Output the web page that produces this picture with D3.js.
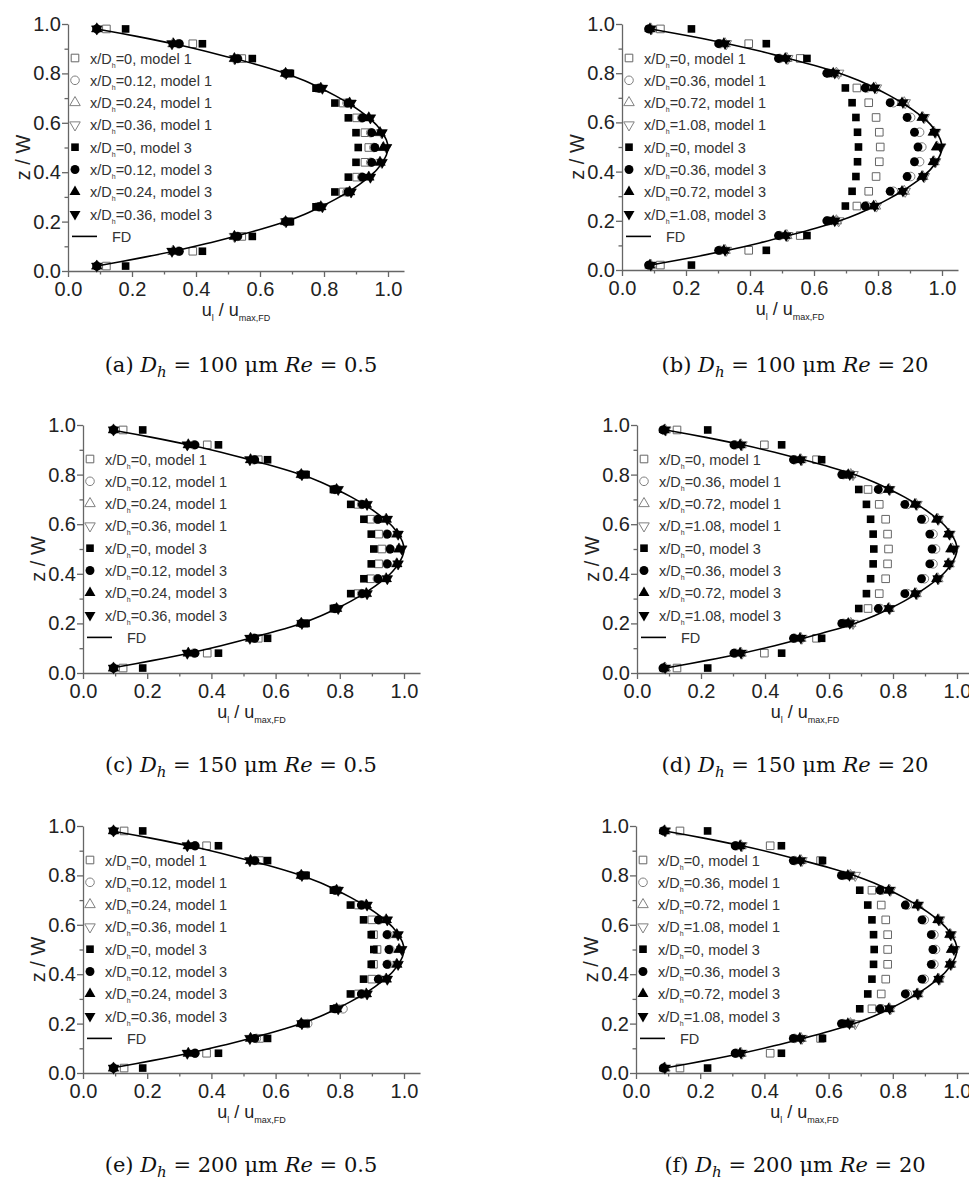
<!DOCTYPE html>
<html>
<head>
<meta charset="utf-8">
<script src="https://cdn.jsdelivr.net/npm/d3@7"></script>
<style>
  body { margin: 0; background: #fff; }
  svg { display: block; }
</style>
</head>
<body>
<script>
/* ------------------------------- Data ------------------------------- */
// z/W levels of the sampled points (bottom wall -> top wall)
const zLevels = [0.02, 0.08, 0.14, 0.20, 0.26, 0.32, 0.38, 0.44, 0.50, 0.56, 0.62, 0.68, 0.74, 0.80, 0.86, 0.92, 0.98];

// fully developed profile (FD)
const fdZ = [0.98, 0.95, 0.92, 0.89, 0.86, 0.83, 0.80, 0.77, 0.74, 0.71, 0.68, 0.65, 0.62, 0.59, 0.56, 0.53, 0.50,
             0.47, 0.44, 0.41, 0.38, 0.35, 0.32, 0.29, 0.26, 0.23, 0.20, 0.17, 0.14, 0.11, 0.08, 0.05, 0.02];
const fdU = [0.09, 0.215, 0.33, 0.43, 0.52, 0.605, 0.68, 0.74, 0.79, 0.835, 0.875, 0.91, 0.94, 0.965, 0.982, 0.995, 1.0,
             0.995, 0.982, 0.965, 0.94, 0.91, 0.875, 0.835, 0.79, 0.74, 0.68, 0.605, 0.52, 0.43, 0.33, 0.215, 0.09];

// legend x/Dh values
const xdLeft = ["0", "0.12", "0.24", "0.36"];
const xdRight = ["0", "0.36", "0.72", "1.08"];

// captions
const capTags = ["(a)", "(b)", "(c)", "(d)", "(e)", "(f)"];
const capDh = ["100", "100", "150", "150", "200", "200"];
const capRe = ["0.5", "20", "0.5", "20", "0.5", "20"];

// (a) Dh = 100 um, Re = 0.5  -- u_l / u_max,FD per z level
const aSq1 = [0.12, 0.39, 0.543, 0.69, 0.785, 0.86, 0.902, 0.928, 0.94, 0.928, 0.902, 0.86, 0.785, 0.69, 0.543, 0.39, 0.12];
const aCi1 = [0.09, 0.345, 0.53, 0.68, 0.785, 0.872, 0.918, 0.946, 0.956, 0.946, 0.918, 0.872, 0.785, 0.68, 0.53, 0.345, 0.09];
const aTu1 = [0.09, 0.328, 0.52, 0.68, 0.79, 0.88, 0.94, 0.975, 0.986, 0.975, 0.94, 0.88, 0.79, 0.68, 0.52, 0.328, 0.09];
const aTd1 = [0.09, 0.325, 0.52, 0.68, 0.795, 0.884, 0.945, 0.98, 0.995, 0.98, 0.945, 0.884, 0.795, 0.68, 0.52, 0.325, 0.09];
const aSq3 = [0.18, 0.42, 0.576, 0.695, 0.775, 0.834, 0.876, 0.9, 0.907, 0.9, 0.876, 0.834, 0.775, 0.695, 0.576, 0.42, 0.18];
const aCi3 = [0.09, 0.348, 0.53, 0.68, 0.785, 0.875, 0.92, 0.949, 0.959, 0.949, 0.92, 0.875, 0.785, 0.68, 0.53, 0.348, 0.09];
const aTu3 = [0.09, 0.33, 0.52, 0.68, 0.79, 0.88, 0.94, 0.975, 0.985, 0.975, 0.94, 0.88, 0.79, 0.68, 0.52, 0.33, 0.09];
const aTd3 = [0.09, 0.325, 0.522, 0.682, 0.795, 0.885, 0.945, 0.982, 0.996, 0.982, 0.945, 0.885, 0.795, 0.682, 0.522, 0.325, 0.09];

// (b) Dh = 100 um, Re = 20
const bSq1 = [0.12, 0.396, 0.557, 0.665, 0.734, 0.771, 0.794, 0.804, 0.807, 0.804, 0.794, 0.771, 0.734, 0.665, 0.557, 0.396, 0.12];
const bCi1 = [0.086, 0.306, 0.493, 0.645, 0.765, 0.848, 0.902, 0.93, 0.937, 0.93, 0.902, 0.848, 0.765, 0.645, 0.493, 0.306, 0.086];
const bTu1 = [0.09, 0.322, 0.515, 0.67, 0.792, 0.882, 0.94, 0.975, 0.985, 0.975, 0.94, 0.882, 0.792, 0.67, 0.515, 0.322, 0.09];
const bTd1 = [0.092, 0.326, 0.518, 0.677, 0.795, 0.885, 0.945, 0.98, 0.996, 0.98, 0.945, 0.885, 0.795, 0.677, 0.518, 0.326, 0.092];
const bSq3 = [0.217, 0.451, 0.578, 0.645, 0.698, 0.719, 0.731, 0.736, 0.739, 0.736, 0.731, 0.719, 0.698, 0.645, 0.578, 0.451, 0.217];
const bCi3 = [0.083, 0.302, 0.489, 0.64, 0.76, 0.838, 0.891, 0.914, 0.925, 0.914, 0.891, 0.838, 0.76, 0.64, 0.489, 0.302, 0.083];
const bTu3 = [0.087, 0.318, 0.51, 0.66, 0.786, 0.875, 0.937, 0.972, 0.982, 0.972, 0.937, 0.875, 0.786, 0.66, 0.51, 0.318, 0.087];
const bTd3 = [0.09, 0.322, 0.513, 0.665, 0.79, 0.878, 0.942, 0.978, 0.995, 0.978, 0.942, 0.878, 0.79, 0.665, 0.513, 0.322, 0.09];

// (c) Dh = 150 um, Re = 0.5
const cSq1 = [0.125, 0.387, 0.546, 0.69, 0.785, 0.857, 0.896, 0.921, 0.931, 0.921, 0.896, 0.857, 0.785, 0.69, 0.546, 0.387, 0.125];
const cCi1 = [0.095, 0.346, 0.532, 0.68, 0.785, 0.868, 0.917, 0.946, 0.955, 0.946, 0.917, 0.868, 0.785, 0.68, 0.532, 0.346, 0.095];
const cTu1 = [0.095, 0.328, 0.522, 0.68, 0.79, 0.882, 0.944, 0.977, 0.985, 0.977, 0.944, 0.882, 0.79, 0.68, 0.522, 0.328, 0.095];
const cTd1 = [0.095, 0.325, 0.52, 0.682, 0.795, 0.885, 0.948, 0.981, 0.993, 0.981, 0.948, 0.885, 0.795, 0.682, 0.52, 0.325, 0.095];
const cSq3 = [0.186, 0.422, 0.575, 0.695, 0.78, 0.834, 0.875, 0.898, 0.906, 0.898, 0.875, 0.834, 0.78, 0.695, 0.575, 0.422, 0.186];
const cCi3 = [0.095, 0.349, 0.535, 0.68, 0.785, 0.87, 0.919, 0.948, 0.957, 0.948, 0.919, 0.87, 0.785, 0.68, 0.535, 0.349, 0.095];
const cTu3 = [0.095, 0.328, 0.522, 0.68, 0.79, 0.883, 0.945, 0.978, 0.984, 0.978, 0.945, 0.883, 0.79, 0.68, 0.522, 0.328, 0.095];
const cTd3 = [0.095, 0.325, 0.52, 0.682, 0.795, 0.885, 0.948, 0.982, 0.993, 0.982, 0.948, 0.885, 0.795, 0.682, 0.52, 0.325, 0.095];

// (d) Dh = 150 um, Re = 20
const dSq1 = [0.125, 0.398, 0.561, 0.665, 0.722, 0.757, 0.777, 0.783, 0.786, 0.783, 0.777, 0.757, 0.722, 0.665, 0.561, 0.398, 0.125];
const dCi1 = [0.084, 0.306, 0.492, 0.645, 0.76, 0.845, 0.898, 0.925, 0.933, 0.925, 0.898, 0.845, 0.76, 0.645, 0.492, 0.306, 0.084];
const dTu1 = [0.088, 0.325, 0.512, 0.668, 0.788, 0.872, 0.94, 0.975, 0.985, 0.975, 0.94, 0.872, 0.788, 0.668, 0.512, 0.325, 0.088];
const dTd1 = [0.09, 0.328, 0.515, 0.675, 0.79, 0.875, 0.942, 0.978, 0.992, 0.978, 0.942, 0.875, 0.79, 0.675, 0.515, 0.328, 0.09];
const dSq3 = [0.221, 0.452, 0.577, 0.645, 0.693, 0.717, 0.73, 0.738, 0.74, 0.738, 0.73, 0.717, 0.693, 0.645, 0.577, 0.452, 0.221];
const dCi3 = [0.081, 0.303, 0.489, 0.64, 0.754, 0.837, 0.889, 0.915, 0.922, 0.915, 0.889, 0.837, 0.754, 0.64, 0.489, 0.303, 0.081];
const dTu3 = [0.085, 0.322, 0.509, 0.66, 0.785, 0.868, 0.936, 0.972, 0.98, 0.972, 0.936, 0.868, 0.785, 0.66, 0.509, 0.322, 0.085];
const dTd3 = [0.088, 0.325, 0.512, 0.665, 0.788, 0.872, 0.94, 0.976, 0.99, 0.976, 0.94, 0.872, 0.788, 0.665, 0.512, 0.325, 0.088];

// (e) Dh = 200 um, Re = 0.5
const eSq1 = [0.128, 0.385, 0.55, 0.69, 0.79, 0.858, 0.9, 0.905, 0.916, 0.905, 0.9, 0.858, 0.79, 0.69, 0.55, 0.385, 0.128];
const eCi1 = [0.095, 0.349, 0.54, 0.70, 0.81, 0.87, 0.922, 0.95, 0.956, 0.95, 0.922, 0.87, 0.79, 0.68, 0.535, 0.349, 0.095];
const eTu1 = [0.095, 0.328, 0.522, 0.68, 0.79, 0.882, 0.944, 0.977, 0.985, 0.977, 0.944, 0.882, 0.79, 0.68, 0.522, 0.328, 0.095];
const eTd1 = [0.095, 0.325, 0.52, 0.682, 0.795, 0.885, 0.948, 0.981, 0.993, 0.981, 0.948, 0.885, 0.795, 0.682, 0.52, 0.325, 0.095];
const eSq3 = [0.186, 0.422, 0.575, 0.695, 0.78, 0.833, 0.874, 0.898, 0.906, 0.898, 0.874, 0.833, 0.78, 0.695, 0.575, 0.422, 0.186];
const eCi3 = [0.095, 0.349, 0.535, 0.68, 0.785, 0.867, 0.92, 0.947, 0.953, 0.947, 0.92, 0.867, 0.785, 0.68, 0.535, 0.349, 0.095];
const eTu3 = [0.095, 0.328, 0.522, 0.68, 0.79, 0.883, 0.945, 0.978, 0.984, 0.978, 0.945, 0.883, 0.79, 0.68, 0.522, 0.328, 0.095];
const eTd3 = [0.095, 0.325, 0.52, 0.682, 0.795, 0.885, 0.948, 0.982, 0.993, 0.982, 0.948, 0.885, 0.795, 0.682, 0.52, 0.325, 0.095];

// (f) Dh = 200 um, Re = 20
const fSq1 = [0.137, 0.418, 0.575, 0.67, 0.735, 0.764, 0.778, 0.784, 0.784, 0.784, 0.778, 0.764, 0.735, 0.67, 0.575, 0.418, 0.137];
const fCi1 = [0.088, 0.312, 0.494, 0.645, 0.765, 0.845, 0.898, 0.928, 0.933, 0.928, 0.898, 0.845, 0.765, 0.645, 0.494, 0.312, 0.088];
const fTu1 = [0.09, 0.327, 0.514, 0.668, 0.79, 0.878, 0.943, 0.98, 0.985, 0.98, 0.943, 0.878, 0.79, 0.668, 0.514, 0.327, 0.09];
const fTd1 = [0.092, 0.33, 0.517, 0.683, 0.793, 0.88, 0.946, 0.982, 0.993, 0.982, 0.946, 0.88, 0.793, 0.683, 0.517, 0.33, 0.092];
const fSq3 = [0.223, 0.453, 0.581, 0.65, 0.697, 0.722, 0.735, 0.74, 0.742, 0.74, 0.735, 0.722, 0.697, 0.65, 0.581, 0.453, 0.223];
const fCi3 = [0.085, 0.309, 0.49, 0.64, 0.76, 0.839, 0.891, 0.92, 0.925, 0.92, 0.891, 0.839, 0.76, 0.64, 0.49, 0.309, 0.085];
const fTu3 = [0.088, 0.324, 0.51, 0.66, 0.787, 0.875, 0.94, 0.977, 0.982, 0.977, 0.94, 0.875, 0.787, 0.66, 0.51, 0.324, 0.088];
const fTd3 = [0.09, 0.327, 0.513, 0.665, 0.79, 0.878, 0.943, 0.98, 0.99, 0.98, 0.943, 0.878, 0.79, 0.665, 0.513, 0.327, 0.09];

/* ----------------------------- Layout ----------------------------- */
const vWidth = 969;
const vHeight = 1183;
const sansFont = "'Liberation Sans', Arial, sans-serif";
const serifFont = "'DejaVu Serif', 'Liberation Serif', serif";
const axisColor = "#666";
const openColor = "#808080";

// series styles, same order as the legend
const seriesStyle = [
    { type: d3.symbolSquare, size: 58, fill: "none", stroke: "#666", rot: 0 },
    { type: d3.symbolCircle, size: 58, fill: "none", stroke: openColor, rot: 0 },
    { type: d3.symbolTriangle, size: 48, fill: "none", stroke: openColor, rot: 0 },
    { type: d3.symbolTriangle, size: 48, fill: "none", stroke: openColor, rot: 180 },
    { type: d3.symbolSquare, size: 58, fill: "#000", stroke: "none", rot: 0 },
    { type: d3.symbolCircle, size: 62, fill: "#000", stroke: "none", rot: 0 },
    { type: d3.symbolTriangle, size: 52, fill: "#000", stroke: "none", rot: 0 },
    { type: d3.symbolTriangle, size: 52, fill: "#000", stroke: "none", rot: 180 }
];

const panels = [
    { left: 68, top: 24, bottom: 271, width: 320, capX: 241, capY: 372, series: [aSq1, aCi1, aTu1, aTd1, aSq3, aCi3, aTu3, aTd3], xd: xdLeft },
    { left: 622, top: 24, bottom: 270, width: 320, capX: 795, capY: 372, series: [bSq1, bCi1, bTu1, bTd1, bSq3, bCi3, bTu3, bTd3], xd: xdRight },
    { left: 83, top: 425, bottom: 673, width: 321, capX: 241, capY: 772, series: [cSq1, cCi1, cTu1, cTd1, cSq3, cCi3, cTu3, cTd3], xd: xdLeft },
    { left: 637, top: 425, bottom: 673, width: 320, capX: 795, capY: 772, series: [dSq1, dCi1, dTu1, dTd1, dSq3, dCi3, dTu3, dTd3], xd: xdRight },
    { left: 83, top: 826, bottom: 1073, width: 321, capX: 241, capY: 1172, series: [eSq1, eCi1, eTu1, eTd1, eSq3, eCi3, eTu3, eTd3], xd: xdLeft },
    { left: 636, top: 826, bottom: 1073, width: 321, capX: 795, capY: 1172, series: [fSq1, fCi1, fTu1, fTd1, fSq3, fCi3, fTu3, fTd3], xd: xdRight }
];

/* ----------------------------- Main SVG ---------------------------- */
const svg = d3.select("body").append("svg").attr("width", vWidth).attr("height", vHeight);

const symbolPath = (s) => d3.symbol().type(s.type).size(s.size)();

const drawPanel = (p, idx) => {
    const x = d3.scaleLinear().domain([0, 1.05]).range([p.left, p.left + p.width * 1.05]);
    const y = d3.scaleLinear().domain([0, 1]).range([p.bottom, p.top]);
    const g = svg.append("g");

    // x axis, major + minor ticks
    const xAxis = g.append("g").attr("transform", `translate(0,${p.bottom})`)
        .call(d3.axisBottom(x).tickValues([0, 0.2, 0.4, 0.6, 0.8, 1.0]).tickFormat(d3.format(".1f"))
            .tickSize(6).tickSizeOuter(0).tickPadding(5));
    const xMinor = g.append("g").attr("transform", `translate(0,${p.bottom})`)
        .call(d3.axisBottom(x).tickValues([0.1, 0.3, 0.5, 0.7, 0.9]).tickFormat("").tickSize(3.5));
    xMinor.select(".domain").remove();

    // y axis
    const yAxis = g.append("g").attr("transform", `translate(${p.left},0)`)
        .call(d3.axisLeft(y).tickValues([0, 0.2, 0.4, 0.6, 0.8, 1.0]).tickFormat(d3.format(".1f"))
            .tickSize(6).tickSizeOuter(0).tickPadding(1));
    const yMinor = g.append("g").attr("transform", `translate(${p.left},0)`)
        .call(d3.axisLeft(y).tickValues([0.1, 0.3, 0.5, 0.7, 0.9]).tickFormat("").tickSize(3.5));
    yMinor.select(".domain").remove();

    [xAxis, xMinor, yAxis, yMinor].forEach(a => {
        a.selectAll(".domain, line").attr("stroke", axisColor).attr("stroke-width", 1.3);
        a.selectAll("text").attr("font-family", sansFont).attr("font-size", "20px").attr("fill", "#222");
    });

    // axis titles
    const xt = g.append("text")
        .attr("x", (x(0) + x(1.05)) / 2).attr("y", p.bottom + 45)
        .attr("text-anchor", "middle").attr("font-family", sansFont).attr("font-size", "18px").attr("fill", "#222");
    xt.append("tspan").text("u");
    xt.append("tspan").attr("font-size", "9px").attr("dy", 5).text("l");
    xt.append("tspan").attr("dy", -5).text(" / u");
    xt.append("tspan").attr("font-size", "9px").attr("dy", 5).text("max,FD");

    g.append("text")
        .attr("transform", `translate(${p.left - 38},${(p.top + p.bottom) / 2 + 10}) rotate(-90)`)
        .attr("text-anchor", "middle").attr("font-family", sansFont).attr("font-size", "20px").attr("fill", "#222")
        .text("z / W");

    // data markers
    p.series.forEach((vals, i) => {
        const s = seriesStyle[i];
        g.append("g").selectAll("path").data(vals).enter().append("path")
            .attr("d", symbolPath(s))
            .attr("transform", (d, j) => `translate(${x(d)},${y(zLevels[j])}) rotate(${s.rot})`)
            .attr("fill", s.fill).attr("stroke", s.stroke).attr("stroke-width", 1);
    });

    // FD curve
    const line = d3.line().x(d => x(d[0])).y(d => y(d[1])).curve(d3.curveCatmullRom);
    g.append("path").datum(fdU.map((u, i) => [u, fdZ[i]]))
        .attr("d", line).attr("fill", "none").attr("stroke", "#000").attr("stroke-width", 1.6);

    // legend
    const lg = g.append("g").attr("transform", `translate(${p.left},${p.top + 34})`);
    const rowH = 22.3;
    seriesStyle.forEach((s, i) => {
        lg.append("path").attr("d", symbolPath(s))
            .attr("transform", `translate(7,${i * rowH}) rotate(${s.rot})`)
            .attr("fill", s.fill).attr("stroke", s.stroke).attr("stroke-width", 1);
        const t = lg.append("text").attr("x", 22).attr("y", i * rowH + 5.5)
            .attr("font-family", sansFont).attr("font-size", "14.5px").attr("fill", "#333");
        t.append("tspan").text("x/D");
        t.append("tspan").attr("font-size", "7px").attr("dy", 4).text("h");
        t.append("tspan").attr("dy", -4).text(`=${p.xd[i % 4]}, model ${i < 4 ? 1 : 3}`);
    });
    lg.append("line").attr("x1", 4).attr("x2", 29).attr("y1", 8 * rowH).attr("y2", 8 * rowH)
        .attr("stroke", "#000").attr("stroke-width", 1.6);
    lg.append("text").attr("x", 44).attr("y", 8 * rowH + 5.5)
        .attr("font-family", sansFont).attr("font-size", "14.5px").attr("fill", "#333").text("FD");

    // caption
    const cap = svg.append("text").attr("x", p.capX).attr("y", p.capY)
        .attr("text-anchor", "middle").attr("font-family", serifFont).attr("font-size", "21px").attr("fill", "#111");
    cap.append("tspan").text(capTags[idx] + " ");
    cap.append("tspan").attr("font-style", "italic").text("D");
    cap.append("tspan").attr("font-style", "italic").attr("font-size", "15px").attr("dy", 5).text("h");
    cap.append("tspan").attr("dy", -5).text(` = ${capDh[idx]} \u03bcm `);
    cap.append("tspan").attr("font-style", "italic").text("Re");
    cap.append("tspan").text(` = ${capRe[idx]}`);
};

panels.forEach(drawPanel);
</script>
</body>
</html>
